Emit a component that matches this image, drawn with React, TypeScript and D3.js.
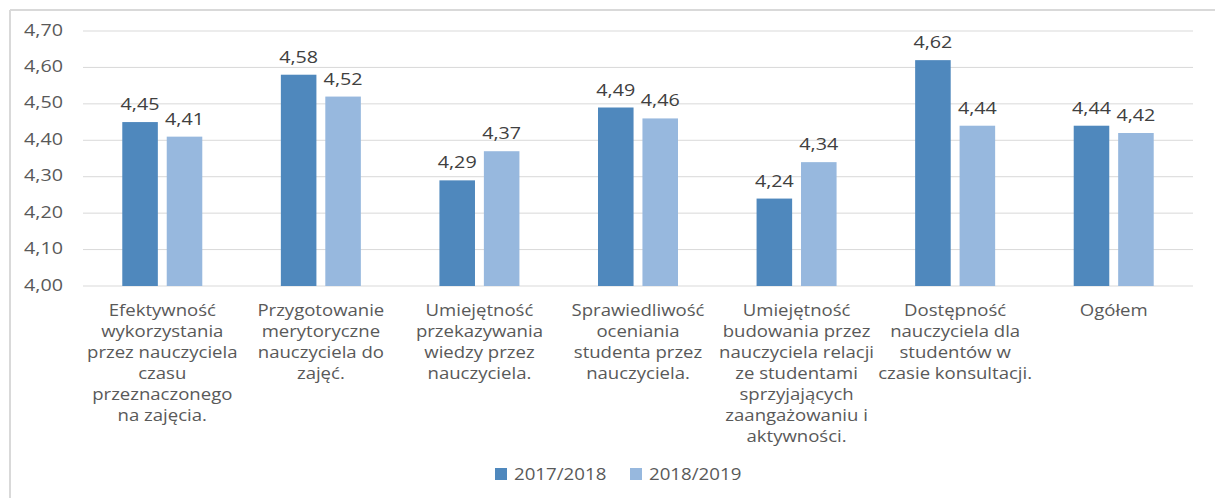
import React from "react";
import * as d3 from "d3";

const categories: string[][] = [
  ["Efektywność", "wykorzystania", "przez nauczyciela", "czasu", "przeznaczonego", "na zajęcia."],
  ["Przygotowanie", "merytoryczne", "nauczyciela do", "zajęć."],
  ["Umiejętność", "przekazywania", "wiedzy przez", "nauczyciela."],
  ["Sprawiedliwość", "oceniania", "studenta przez", "nauczyciela."],
  ["Umiejętność", "budowania przez", "nauczyciela relacji", "ze studentami", "sprzyjających", "zaangażowaniu i", "aktywności."],
  ["Dostępność", "nauczyciela dla", "studentów w", "czasie konsultacji."],
  ["Ogółem"],
];
const seriesNames = ["2017/2018", "2018/2019"];
const values2017 = [4.45, 4.58, 4.29, 4.49, 4.24, 4.62, 4.44];
const values2018 = [4.41, 4.52, 4.37, 4.46, 4.34, 4.44, 4.42];
const colors = ["#4F88BD", "#97B8DE"];
const yTicks = [4.0, 4.1, 4.2, 4.3, 4.4, 4.5, 4.6, 4.7];

const W = 1215;
const H = 498;
const left = 83;
const right = 1193;
const yTop = 31;
const yBottom = 286;
const FONT = "'Open Sans', 'Noto Sans', sans-serif";
const SX = 1.16;
const fmt = (v: number) => v.toFixed(2).replace(".", ",");

export default function App() {
  const idx = categories.map((_, i) => i);
  const x0 = d3.scaleBand<number>().domain(idx).range([left, right]).padding(0);
  const x1 = d3.scaleBand<number>().domain([0, 1]).range([-40, 40]).paddingInner(0.2);
  const y = d3.scaleLinear().domain([4.0, 4.7]).range([yBottom, yTop]);
  const series = [values2017, values2018];

  return (
    <svg width={W} height={H} style={{ position: "absolute", left: 0, top: 0, background: "#fff" }} fontFamily={FONT}>
      <rect x={0} y={0} width={W} height={H} fill="#fff" />
      <line x1={10} x2={W} y1={10} y2={10} stroke="#d9d9d9" strokeWidth={2} />
      <line x1={10} x2={10} y1={10} y2={H} stroke="#d9d9d9" strokeWidth={2} />
      {yTicks.map((t) => (
        <g key={t}>
          <line x1={left} x2={right} y1={y(t)} y2={y(t)} stroke="#d9d9d9" strokeWidth={1} />
          <g transform={`translate(63,${y(t)}) scale(${SX},1)`}>
            <text x={0} y={0} textAnchor="end" dominantBaseline="middle" fontSize={17} fill="#595959">
              {fmt(t)}
            </text>
          </g>
        </g>
      ))}
      {idx.map((i) => {
        const cx = (x0(i) as number) + x0.bandwidth() / 2;
        return (
          <g key={i}>
            {series.map((s, k) => {
              const bx = cx + (x1(k) as number);
              const top = y(s[i]);
              return (
                <g key={k}>
                  <rect x={bx} y={top} width={x1.bandwidth()} height={yBottom - top} fill={colors[k]} />
                  <g transform={`translate(${bx + x1.bandwidth() / 2},${top - 12}) scale(${SX},1)`}>
                    <text x={0} y={0} textAnchor="middle" fontSize={17} fill="#404040">
                      {fmt(s[i])}
                    </text>
                  </g>
                </g>
              );
            })}
            <g transform={`translate(${cx},0) scale(${SX},1)`}>
              {categories[i].map((line, j) => (
                <text key={j} x={0} y={316 + j * 21} textAnchor="middle" fontSize={16} fill="#595959">
                  {line}
                </text>
              ))}
            </g>
          </g>
        );
      })}
      {seriesNames.map((n, k) => {
        const lx = k === 0 ? 495 : 630;
        return (
          <g key={n}>
            <rect x={lx} y={468} width={12} height={12} fill={colors[k]} />
            <g transform={`translate(${lx + 19},480) scale(1.1,1)`}>
              <text x={0} y={0} fontSize={17} fill="#595959">
                {n}
              </text>
            </g>
          </g>
        );
      })}
    </svg>
  );
}
